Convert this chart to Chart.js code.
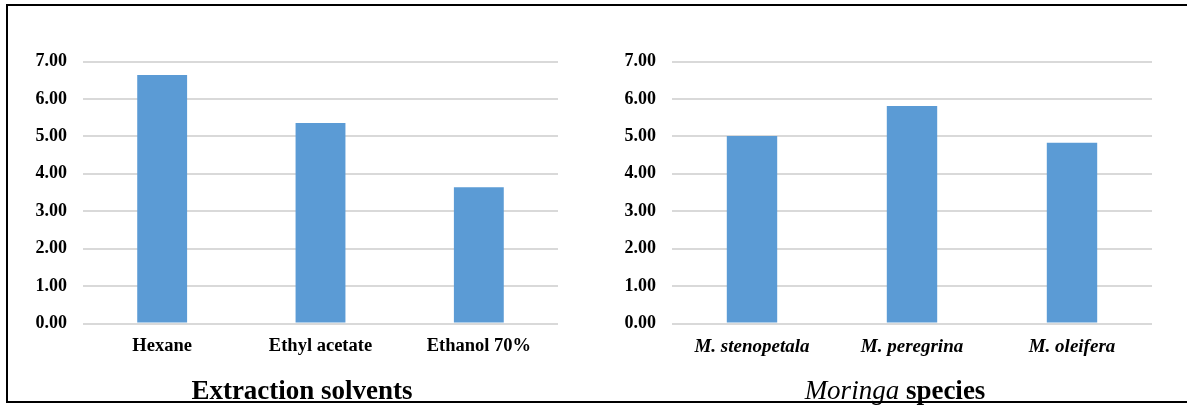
<!DOCTYPE html>
<html>
<head>
<meta charset="utf-8">
<script src="https://cdn.jsdelivr.net/npm/chart.js@4/dist/chart.umd.min.js"></script>
<style>
  html, body { margin: 0; padding: 0; background: #fff; overflow: hidden; }
  body { width: 1187px; height: 405px; position: relative; }
  #frame {
    position: absolute; left: 6px; top: 4px; width: 1300px; height: 399px;
    box-sizing: border-box; border: 2px solid #000;
  }
  .box { position: absolute; top: 0; height: 405px; }
  #leftBox { left: 0; width: 593px; }
  #rightBox { left: 593px; width: 594px; }
</style>
</head>
<body>
<div id="frame"></div>
<div class="box" id="leftBox"><canvas id="solvents"></canvas></div>
<div class="box" id="rightBox"><canvas id="species"></canvas></div>
<script>
// Extraction solvents panel
const solventLabels = ['Hexane', 'Ethyl acetate', 'Ethanol 70%'];
const solventValues = [6.64, 5.36, 3.64];

// Moringa species panel
const speciesLabels = ['M. stenopetala', 'M. peregrina', 'M. oleifera'];
const speciesValues = [5.01, 5.81, 4.83];

// Shared value axis
const yMin = 0;
const yMax = 7;
const yStep = 1;

// Axis captions, drawn as runs so one word can be styled apart
const solventCaption = [{ text: 'Extraction solvents', style: 'normal', weight: 'bold' }];
const speciesCaption = [
  { text: 'Moringa', style: 'italic', weight: 'normal' },
  { text: ' species', style: 'normal', weight: 'bold' }
];

const FONT = "'Liberation Serif', 'Times New Roman', serif";
const BAR = '#5b9bd5';
const GRID = '#d9d9d9';

// Draws the caption under the category axis
const captionPlugin = {
  id: 'caption',
  afterDraw(chart, args, opts) {
    const ctx = chart.ctx;
    const runs = opts.runs || [];
    ctx.save();
    ctx.fillStyle = '#000';
    ctx.textBaseline = 'alphabetic';
    ctx.textAlign = 'left';
    const fonts = runs.map(r => `${r.style} ${r.weight} ${opts.size}px ${FONT}`);
    let total = 0;
    runs.forEach((r, i) => { ctx.font = fonts[i]; total += ctx.measureText(r.text).width; });
    let x = opts.x - total / 2;
    runs.forEach((r, i) => {
      ctx.font = fonts[i];
      ctx.fillText(r.text, x, opts.y);
      x += ctx.measureText(r.text).width;
    });
    ctx.restore();
  }
};

function makeChart(id, labels, values, cfg) {
  return new Chart(document.getElementById(id), {
    type: 'bar',
    data: {
      labels: labels,
      datasets: [{
        data: values,
        backgroundColor: BAR,
        borderWidth: 0,
        barPercentage: 0.315,
        categoryPercentage: 1.0
      }]
    },
    options: {
      responsive: true,
      maintainAspectRatio: false,
      animation: false,
      events: [],
      layout: { padding: { top: 61.5, right: cfg.padRight, bottom: 0, left: 0 } },
      plugins: {
        legend: { display: false },
        tooltip: { enabled: false },
        title: { display: false },
        caption: { runs: cfg.caption, x: cfg.captionX, y: 399, size: 27 }
      },
      scales: {
        x: {
          grid: { display: false, drawTicks: false },
          border: { display: false },
          ticks: {
            color: '#000',
            padding: 12,
            maxRotation: 0,
            autoSkip: false,
            font: { family: FONT, size: cfg.tickSize, weight: 'bold', style: cfg.tickStyle }
          },
          afterFit(scale) { scale.height = 405 - 323.5; }
        },
        y: {
          min: yMin,
          max: yMax,
          grid: { color: GRID, lineWidth: 2, drawTicks: false },
          border: { display: false },
          ticks: {
            stepSize: yStep,
            color: '#000',
            padding: 16,
            font: { family: FONT, size: 18, weight: 'bold' },
            callback: v => Number(v).toFixed(2)
          },
          afterFit(scale) { scale.width = cfg.axisWidth; }
        }
      }
    },
    plugins: [captionPlugin]
  });
}

makeChart('solvents', solventLabels, solventValues, {
  padRight: 35, axisWidth: 83, tickStyle: 'normal', tickSize: 18.5,
  caption: solventCaption, captionX: 302
});
makeChart('species', speciesLabels, speciesValues, {
  padRight: 35, axisWidth: 79, tickStyle: 'italic', tickSize: 19,
  caption: speciesCaption, captionX: 302
});
</script>
</body>
</html>
